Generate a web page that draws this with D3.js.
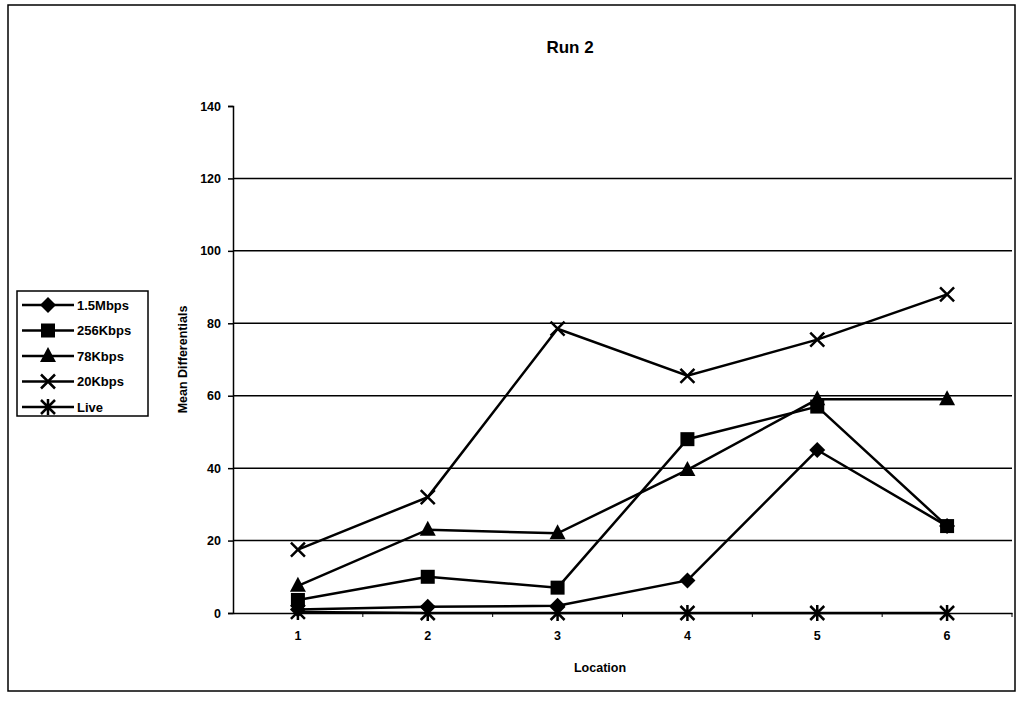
<!DOCTYPE html>
<html><head><meta charset="utf-8">
<script src="https://cdn.jsdelivr.net/npm/d3@7"></script>
<style>body{margin:0;background:#fff;} text{font-family:"Liberation Sans",Arial,sans-serif;}</style>
</head><body>
<svg id="c" width="1026" height="702"></svg>
<script>
const locations = ["1","2","3","4","5","6"];
const seriesNames = ["1.5Mbps","256Kbps","78Kbps","20Kbps","Live"];
const mbps15  = [1, 1.7, 2, 9, 45, 24];
const kbps256 = [3.6, 10, 7, 48, 57, 24];
const kbps78  = [7.5, 23, 22, 39.5, 59, 59];
const kbps20  = [17.5, 32, 78.5, 65.5, 75.5, 88];
const live    = [0.3, 0, 0, 0, 0, 0];
const yTicks  = [0,20,40,60,80,100,120,140];
const seriesValues = [mbps15, kbps256, kbps78, kbps20, live];
const markers = ["diamond","square","triangle","x","star"];

const svg = d3.select("#c");
svg.append("rect").attr("x",8).attr("y",5).attr("width",1007).attr("height",686)
  .attr("fill","none").attr("stroke","#000").attr("stroke-width",1.5);

const L=233, R=1012, T=106, B=613;
const x = d3.scaleBand().domain(locations).range([L,R]);
const y = d3.scaleLinear().domain([0,140]).range([B,T]);

// gridlines
svg.append("g").selectAll("line").data(yTicks.filter(v=>v>0&&v<140)).join("line")
  .attr("x1",L).attr("x2",R).attr("y1",d=>y(d)).attr("y2",d=>y(d))
  .attr("stroke","#000").attr("stroke-width",1.5);

// y axis
const ya = svg.append("g").attr("transform",`translate(${L},0)`)
  .call(d3.axisLeft(y).tickValues(yTicks).tickSize(5).tickPadding(7));
ya.selectAll("text").attr("font-size",12.5).attr("font-weight",600).attr("fill","#000");
ya.selectAll("line,path").attr("stroke","#000").attr("stroke-width",1.5);

// x axis
const xa = svg.append("g").attr("transform",`translate(0,${B})`)
  .call(d3.axisBottom(x).tickSize(0).tickPadding(18));
xa.select(".domain").attr("stroke","#000").attr("stroke-width",1.5);
xa.selectAll("text").attr("font-size",12.5).attr("font-weight",600).attr("fill","#000");
svg.append("g").selectAll("line").data(locations.slice(1).concat(["end"])).join("line")
  .attr("x1",(d,i)=> i<5? x(d): R).attr("x2",(d,i)=> i<5? x(d): R)
  .attr("y1",B).attr("y2",B+4).attr("stroke","#000").attr("stroke-width",1);

// titles
svg.append("text").attr("x",570).attr("y",53).attr("text-anchor","middle")
  .attr("font-size",17).attr("font-weight","bold").text("Run 2");
svg.append("text").attr("x",600).attr("y",672).attr("text-anchor","middle")
  .attr("font-size",12.5).attr("font-weight","bold").text("Location");
svg.append("text").attr("transform",`translate(187,${(T+B)/2}) rotate(-90)`)
  .attr("text-anchor","middle").attr("font-size",12.5).attr("font-weight","bold").text("Mean Differentials");

function drawMarker(g, type, cx, cy){
  if(type==="diamond"){
    g.append("path").attr("d",`M${cx},${cy-8}L${cx+8},${cy}L${cx},${cy+8}L${cx-8},${cy}Z`).attr("fill","#000");
  } else if(type==="square"){
    g.append("rect").attr("x",cx-7).attr("y",cy-7).attr("width",14).attr("height",14).attr("fill","#000");
  } else if(type==="triangle"){
    g.append("path").attr("d",`M${cx},${cy-9}L${cx+8},${cy+6}L${cx-8},${cy+6}Z`).attr("fill","#000");
  } else if(type==="x"){
    g.append("path").attr("d",`M${cx-7},${cy-7}L${cx+7},${cy+7}M${cx+7},${cy-7}L${cx-7},${cy+7}`)
      .attr("stroke","#000").attr("stroke-width",2.5).attr("fill","none");
  } else if(type==="star"){
    g.append("path").attr("d",`M${cx-7},${cy-7}L${cx+7},${cy+7}M${cx+7},${cy-7}L${cx-7},${cy+7}M${cx},${cy-8}L${cx},${cy+8}`)
      .attr("stroke","#000").attr("stroke-width",2.5).attr("fill","none");
  }
}

const line = d3.line().x((d,i)=>x(locations[i])+x.bandwidth()/2).y(d=>y(d));
seriesValues.forEach((vals,si)=>{
  const g = svg.append("g");
  g.append("path").attr("d",line(vals)).attr("fill","none").attr("stroke","#000").attr("stroke-width",2.5);
  vals.forEach((v,i)=>drawMarker(g, markers[si], x(locations[i])+x.bandwidth()/2, y(v)));
});

// legend
const lg = svg.append("g");
lg.append("rect").attr("x",17).attr("y",291).attr("width",131).attr("height",125)
  .attr("fill","#fff").attr("stroke","#000").attr("stroke-width",1.5);
seriesNames.forEach((n,i)=>{
  const yy = 305 + i*25.5;
  lg.append("line").attr("x1",22).attr("x2",74).attr("y1",yy).attr("y2",yy).attr("stroke","#000").attr("stroke-width",2.5);
  drawMarker(lg, markers[i], 48, yy);
  lg.append("text").attr("x",77).attr("y",yy+4.5).attr("font-size",13).attr("font-weight",600).text(n);
});
</script>
</body></html>
